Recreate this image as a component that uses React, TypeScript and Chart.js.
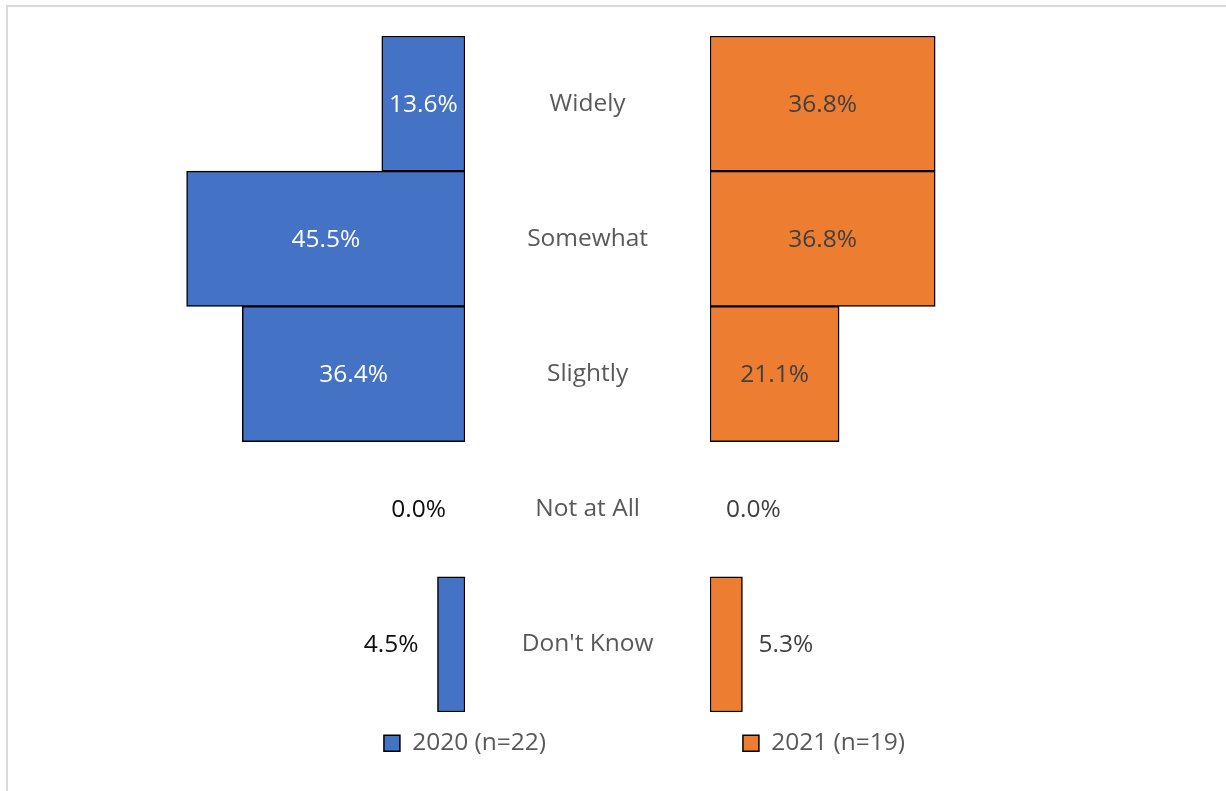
import React, { useEffect, useRef } from "react";
import { Chart, registerables } from "chart.js";

Chart.register(...registerables);

const categories = ["Widely", "Somewhat", "Slightly", "Not at All", "Don't Know"];
const values2020 = [13.6, 45.5, 36.4, 0.0, 4.5];
const values2021 = [36.8, 36.8, 21.1, 0.0, 5.3];
const label2020 = "2020 (n=22)";
const label2021 = "2021 (n=19)";

const BLUE = "#4472C4";
const ORANGE = "#ED7D31";
const FONT = "'Open Sans', 'Noto Sans', sans-serif";
const FONT_SIZE = 24.5;

const barLabels = {
  id: "barLabels",
  afterDatasetsDraw(chart: any, _args: any, opts: any) {
    const { ctx } = chart;
    const meta = chart.getDatasetMeta(0);
    const data = chart.data.datasets[0].data as number[];
    ctx.save();
    ctx.font = `${FONT_SIZE}px ${FONT}`;
    ctx.textBaseline = "middle";
    meta.data.forEach((el: any, i: number) => {
      const v = data[i];
      const text = v.toFixed(1) + "%";
      if (v >= opts.insideMin) {
        ctx.fillStyle = opts.insideColor;
        ctx.textAlign = "center";
        ctx.fillText(text, (el.x + el.base) / 2, el.y + 1);
      } else {
        ctx.fillStyle = opts.outsideColor;
        ctx.textAlign = opts.dir < 0 ? "right" : "left";
        ctx.fillText(text, el.x + opts.dir * opts.offset, el.y + 1);
      }
    });
    ctx.restore();
  },
};

const legendOpts = {
  position: "bottom" as const,
  labels: {
    boxWidth: 16,
    boxHeight: 16,
    padding: 19,
    color: "#595959",
    font: { family: FONT, size: FONT_SIZE },
  },
};

export default function App() {
  const leftRef = useRef<HTMLCanvasElement | null>(null);
  const rightRef = useRef<HTMLCanvasElement | null>(null);

  useEffect(() => {
    const left = new Chart(leftRef.current as HTMLCanvasElement, {
      type: "bar",
      data: {
        labels: categories,
        datasets: [
          {
            label: label2020,
            data: values2020,
            backgroundColor: BLUE,
            borderColor: "#000000",
            borderWidth: 1.5,
            borderSkipped: false,
            barPercentage: 1,
            categoryPercentage: 1,
          },
        ],
      },
      options: {
        indexAxis: "y",
        animation: false,
        responsive: false,
        maintainAspectRatio: false,
        layout: { padding: { top: 36, bottom: 25.5, left: 0, right: 0 } },
        scales: {
          x: { display: false, reverse: true, min: 0, max: 76 },
          y: {
            position: "right",
            grid: { display: false, drawTicks: false },
            border: { display: false },
            ticks: { display: false },
            afterFit: (s: any) => {
              s.width = 465;
              s.paddingTop = 0;
              s.paddingBottom = 0;
            },
          },
        },
        plugins: {
          legend: legendOpts,
          tooltip: { enabled: false },
          barLabels: { insideMin: 10, insideColor: "#ffffff", outsideColor: "#0d0d0d", dir: -1, offset: 19 },
        } as any,
      },
      plugins: [barLabels],
    });

    const right = new Chart(rightRef.current as HTMLCanvasElement, {
      type: "bar",
      data: {
        labels: categories,
        datasets: [
          {
            label: label2021,
            data: values2021,
            backgroundColor: ORANGE,
            borderColor: "#000000",
            borderWidth: 1.5,
            borderSkipped: false,
            barPercentage: 1,
            categoryPercentage: 1,
          },
        ],
      },
      options: {
        indexAxis: "y",
        animation: false,
        responsive: false,
        maintainAspectRatio: false,
        layout: { padding: { top: 36, bottom: 25.5, left: 0, right: 0 } },
        scales: {
          x: { display: false, min: 0, max: 77.3 },
          y: {
            position: "left",
            grid: { display: false, drawTicks: false },
            border: { display: false },
            ticks: {
              color: "#595959",
              font: { family: FONT, size: FONT_SIZE },
              crossAlign: "center",
              padding: 56.5,
            },
            afterFit: (s: any) => {
              s.width = 245;
              s.paddingTop = 0;
              s.paddingBottom = 0;
            },
          },
        },
        plugins: {
          legend: legendOpts,
          tooltip: { enabled: false },
          barLabels: { insideMin: 10, insideColor: "#404040", outsideColor: "#404040", dir: 1, offset: 16 },
        } as any,
      },
      plugins: [barLabels],
    });

    return () => {
      left.destroy();
      right.destroy();
    };
  }, []);

  return (
    <div
      style={{
        position: "fixed",
        left: 0,
        top: 0,
        width: 1226,
        height: 791,
        overflow: "hidden",
        background: "#ffffff",
      }}
    >
      <div
        style={{
          position: "absolute",
          left: 6,
          top: 5,
          width: 1400,
          height: 1000,
          border: "2px solid #d9d9d9",
          boxSizing: "border-box",
        }}
      />
      <canvas
        ref={leftRef}
        width={930}
        height={791}
        style={{ position: "absolute", left: 0, top: 0, width: 930, height: 791 }}
      />
      <canvas
        ref={rightRef}
        width={718}
        height={791}
        style={{ position: "absolute", left: 465, top: 0, width: 718, height: 791 }}
      />
    </div>
  );
}
